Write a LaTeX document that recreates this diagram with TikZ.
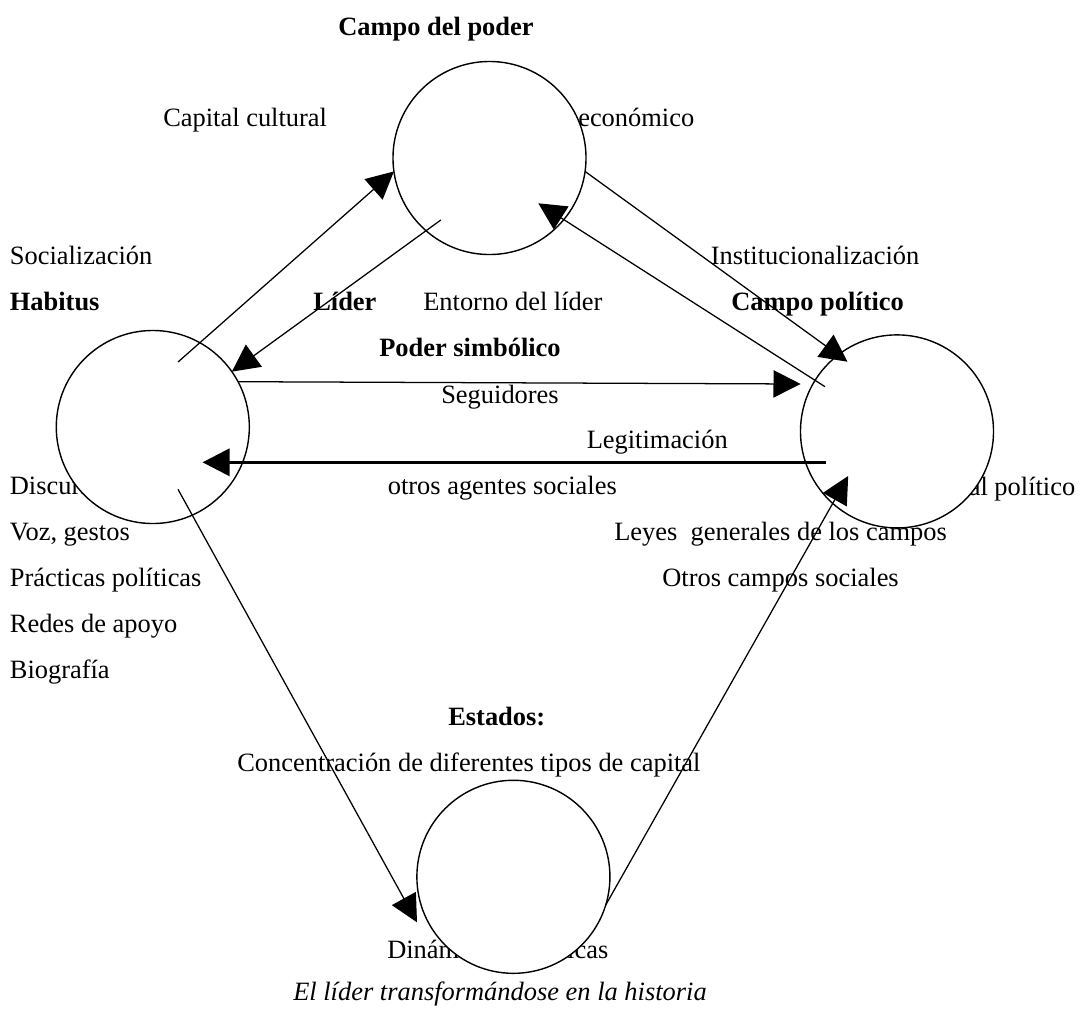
\documentclass[tikz,border=0pt]{standalone}
\usepackage{fontspec}
\setmainfont{Liberation Serif}
\usetikzlibrary{positioning,arrows.meta}

\begin{document}
\begin{tikzpicture}[x=0.025cm, y=-0.025cm, node distance=1.148cm,
       every node/.style={font=\fontsize{18.8}{22}\selectfont},
       txt/.style={inner sep=0pt, anchor=mid west},
       campo/.style={circle, draw=black, fill=white, line width=1pt, inner sep=0pt, outer sep=0pt, minimum size=4.825cm},
       flecha/.style={line width=0.9pt, -{Triangle[length=0.68cm, width=0.68cm]}},
       gruesa/.style={flecha, line width=2.4pt}]
       \path [use as bounding box, fill=white] (0,0) rectangle (1080,1009);

       \node [txt] at (338,32)      (tcampopoder) {\textbf{Campo del poder}};
       \node [txt] at (163,123)     (tcultural)   {Capital cultural};
       \node [txt] at (495,123)     (teconomico)  {Capital económico};
       \node [txt] at (9.6,261.5)   (tsocial)     {Socialización};
       \node [txt, below=of tsocial.mid west, anchor=mid west] (thabitus) {\textbf{Habitus}};
       \node [txt] at (710.5,261.5) (tinstit)     {Institucionalización};
       \node [txt] at (313,307)     (tlider)      {\textbf{Líder}};
       \node [txt] at (423,307)     (tentorno)    {Entorno del líder};
       \node [txt] at (731,307)     (tcampopol)   {\textbf{Campo político}};
       \node [txt] at (379,353)     (tsimbolico)  {\textbf{Poder simbólico}};
       \node [txt] at (441,400)     (tseguidores) {Seguidores};
       \node [txt] at (586.5,445.7) (tlegitim)    {Legitimación};
       \node [txt] at (9.6,491.5)   (tdiscursos)  {Discursos};
       \node [txt] at (387.5,491.5) (tagentes)    {otros agentes sociales};
       \node [txt, anchor=mid east] at (1075.5,492.5) (tcappol) {Capital político};
       \node [txt, below=of tdiscursos.mid west, anchor=mid west] (tvoz)       {Voz, gestos};
       \node [txt, below=of tvoz.mid west, anchor=mid west]       (tpracticas) {Prácticas políticas};
       \node [txt, below=of tpracticas.mid west, anchor=mid west] (tredes)     {Redes de apoyo};
       \node [txt, below=of tredes.mid west, anchor=mid west]     (tbiografia) {Biografía};
       \node [txt] at (614,537.7)   (tleyes)      {Leyes\ \ generales de los campos};
       \node [txt, below=of tleyes.mid, anchor=mid] (totros) {Otros campos sociales};
       \node [txt] at (448,722.3)   (testados)    {\textbf{Estados:}};
       \node [txt] at (237,768)     (tconcentr)   {Concentración de diferentes tipos de capital};
       \node [txt] at (387,955)     (tdinamicas)  {Dinámicas históricas};
       \node [txt] at (293,997)     (tlidhist)    {\textit{El líder transformándose en la historia}};

       \node [campo] at (489.5,158)   (poder)    {};
       \node [campo] at (152.8,427)   (habitus)  {};
       \node [campo] at (897,431.4)   (politico) {};
       \node [campo] at (513.4,876.8) (estados)  {};

       \coordinate (habitus-a)  at (178,362);
       \coordinate (habitus-b)  at (202.5,462.3);
       \coordinate (habitus-c)  at (178,489.3);
       \coordinate (poder-a)    at (440.8,220);
       \coordinate (poder-b)    at (538.3,203.3);
       \coordinate (politico-a) at (847.5,361.7);
       \coordinate (politico-b) at (825,386.7);
       \coordinate (politico-c) at (800.7,384);
       \coordinate (politico-d) at (825.8,462.3);
       \coordinate (politico-e) at (848.2,476);
       \coordinate (estados-a)  at (417,922.3);

       \draw [flecha] (habitus-a) -- (poder.188);
       \draw [flecha] (poder-a) -- (habitus.35);
       \draw [flecha] (poder.-8) -- (politico-a);
       \draw [flecha] (politico-b) -- (poder-b);
       \draw [flecha] (habitus.28) -- (politico-c);
       \draw [gruesa] (politico-d) -- (habitus-b);
       \draw [flecha] (habitus-c) -- (estados-a);
       \draw [flecha] (estados.-17) -- (politico-e);
    \end{tikzpicture}
\end{document}
